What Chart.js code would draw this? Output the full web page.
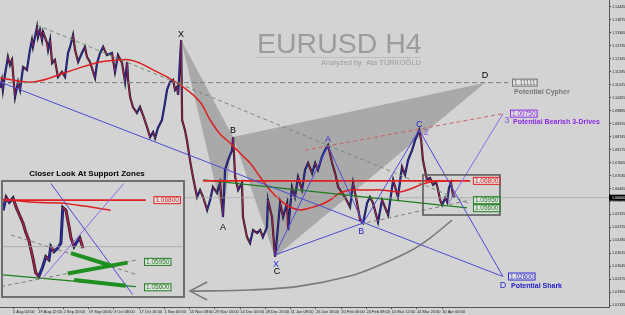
<!DOCTYPE html>
<html>
<head>
<meta charset="utf-8">
<script src="https://cdn.jsdelivr.net/npm/chart.js@4.4.1/dist/chart.umd.min.js"></script>
<style>
  html, body { margin: 0; padding: 0; background: #d3d3d3; }
  #wrap { position: relative; width: 625px; height: 315px; overflow: hidden; }
  #main { position: absolute; left: 0; top: 0; }
  #insetBox { position: absolute; left: 1px; top: 180px; width: 180px; height: 114px; border: 2px solid #6f6f6f; background: #d3d3d3; }
</style>
</head>
<body>
<div id="wrap">
  <canvas id="main" width="625" height="315"></canvas>
  <div id="insetBox"><canvas id="inset" width="180" height="114"></canvas></div>
</div>
<script>
// time axis: one unit = 1/10 of the spacing between date labels
const timeTicks = [10, 20, 30, 40, 50, 60, 70, 80, 90, 100, 110, 120, 130, 140, 150, 160, 170, 180];
const timeLabels = ['5 Aug 04:00', '19 Aug 12:00', '2 Sep 20:00', '19 Sep 00:00', '3 Oct 08:00', '17 Oct 16:00',
  '1 Nov 00:00', '15 Nov 08:00', '29 Nov 16:00', '14 Dec 00:00', '28 Dec 20:00', '11 Jan 08:00',
  '26 Jan 16:00', '10 Feb 00:00', '24 Feb 08:00', '10 Mar 12:00', '24 Mar 20:00', '10 Apr 00:00'];
const priceTicks = [1.01335, 1.01905, 1.02475, 1.03045, 1.03615, 1.04185, 1.04755, 1.05325, 1.05895, 1.06465,
  1.07035, 1.07605, 1.08175, 1.08745, 1.09315, 1.09885, 1.10455, 1.11025, 1.11595, 1.12165, 1.12735,
  1.13305, 1.13875, 1.14445];

// EURUSD H4 price path
const priceTime = [4.9,5.6,6.0,6.8,8.0,8.8,9.6,10.8,12.0,12.8,14.0,15.5,16.7,17.5,17.9,19.5,19.9,20.7,21.5,21.9,
  23.5,23.9,24.7,25.5,26.6,27.8,29.4,30.6,31.8,32.6,33.8,34.6,35.8,37.3,38.5,39.3,40.5,42.5,43.3,44.5,
  45.7,47.2,49.2,50.4,51.6,53.2,54.4,55.2,55.6,56.4,57.5,59.1,60.3,61.5,63.1,64.3,65.5,66.3,67.4,69.0,
  70.2,71.0,72.2,73.4,74.2,75.0,75.4,76.6,77.0,78.1,78.9,80.1,81.3,82.9,84.1,85.3,86.9,88.1,89.2,90.8,
  92.0,93.2,94.0,95.2,96.8,97.2,98.0,99.2,100.7,101.1,102.7,103.9,105.1,106.7,107.9,109.0,110.6,111.0,112.6,113.8,
  114.6,115.8,117.0,118.6,119.0,120.5,121.7,122.9,124.5,125.7,126.9,128.5,129.7,130.8,132.4,133.6,134.8,136.4,137.6,138.8,
  140.4,141.5,143.5,144.7,146.3,147.5,148.7,150.3,151.4,152.6,154.6,156.2,158.6,160.6,162.5,164.1,165.3,166.5,168.1,169.3,
  170.9,171.7,172.4,173.2,174.0,175.2,176.4,177.6,178.4,179.2,180.0,181.2,182.0,182.7,183.5,184.3,185.1];
const priceClose = [1.1088,1.1123,1.1079,1.1145,1.1224,1.1189,1.1211,1.1048,1.1114,1.1079,
  1.1180,1.1167,1.1254,1.1298,1.1268,1.1355,1.1311,1.1342,1.1298,1.1334,
  1.1285,1.1254,1.1298,1.1197,1.1211,1.1136,1.1158,1.1136,1.1241,1.1268,
  1.1320,1.1254,1.1202,1.1241,1.1268,1.1224,1.1202,1.1132,1.1197,1.1241,
  1.1268,1.1232,1.1241,1.1158,1.1232,1.1197,1.1114,1.1202,1.1123,1.1048,
  1.1004,1.0978,1.1004,1.0969,1.0916,1.0872,1.0894,1.0868,1.0912,1.0947,
  1.1022,1.1079,1.1114,1.1123,1.1079,1.1092,1.1057,1.1298,1.0947,1.0903,
  1.0859,1.0771,1.0697,1.0609,1.0640,1.0609,1.0552,1.0596,1.0653,1.0627,
  1.0671,1.0521,1.0728,1.0771,1.0815,1.0872,1.0697,1.0640,1.0671,1.0521,
  1.0433,1.0407,1.0464,1.0451,1.0464,1.0433,1.0477,1.0596,1.0521,1.0346,
  1.0433,1.0583,1.0521,1.0583,1.0464,1.0653,1.0609,1.0697,1.0640,1.0728,
  1.0758,1.0714,1.0758,1.0728,1.0785,1.0815,1.0837,1.0758,1.0714,1.0653,
  1.0627,1.0609,1.0565,1.0671,1.0583,1.0508,1.0495,1.0583,1.0609,1.0583,
  1.0499,1.0596,1.0530,1.0684,1.0609,1.0741,1.0706,1.0771,1.0815,1.0859,
  1.0903,1.0859,1.0771,1.0728,1.0684,1.0693,1.0662,1.0675,1.0640,1.0596,
  1.0574,1.0605,1.0587,1.0649,1.0671,1.0618,1.0609];
const currentPrice = 1.0606;

// moving average
const maTime = [4.9,17.9,31.4,44.5,52.4,56.4,60.3,65.5,71.0,77.4,84.1,88.1,92.0,96.0,99.9,103.9,107.9,111.8,115.8,119.8,
  123.7,127.7,131.6,135.6,139.6,143.5,147.5,151.4,155.4,159.4,163.3,167.3,171.3,175.2,179.2,185.1];
const maValue = [1.1132,1.1114,1.1158,1.1202,1.1211,1.1211,1.1197,1.1167,1.1136,1.1092,
  1.1026,1.0947,1.0886,1.0846,1.0802,1.0758,1.0697,1.0640,1.0596,1.0565,
  1.0552,1.0561,1.0574,1.0596,1.0627,1.0640,1.0640,1.0640,1.0640,1.0635,
  1.0631,1.0644,1.0662,1.0675,1.0679,1.0679];

// patterns X A B C D
const patternNames = ['X', 'A', 'B', 'C', 'D'];
const cypherTime = [76.6, 93.2, 97.2, 113.8, 197.0];
const cypherPrice = [1.1298, 1.0521, 1.0872, 1.0346, 1.11111];
const sharkTime = [113.8, 134.8, 148.7, 170.9, 204.1];
const sharkPrice = [1.0355, 1.0833, 1.0495, 1.0903, 1.0260];

// trend lines (start, end)
const sharkTrendTime = [4.85, 204.1];
const sharkTrendPrice = [1.1114, 1.0260];
const cypherLevelTime = [4.85, 206.1];
const cypherLevelPrice = [1.11111, 1.11111];
const drivesTrendTime = [125.7, 204.1];
const drivesTrendPrice = [1.0815, 1.0975];
const driveLegTime = [182.4, 204.1];
const driveLegPrice = [1.0579, 1.0975];
const resistTime = [85.3, 191.1];
const resistPrice = [1.0680, 1.0680];
const greenTime = [85.3, 189.9];
const greenPrice = [1.0684, 1.0561];
const upperDashTime = [19.5, 191.1];
const upperDashPrice = [1.1364, 1.0578];
const lowerDashTime = [147.5, 191.1];
const lowerDashPrice = [1.0490, 1.0596];
const zoneTime = [172.4, 202.9];
const zonePrice = [1.0530, 1.0706];
const arcTime = [80.9, 103.9, 123.7, 143.5, 155.4, 167.3, 175.2, 183.9];
const arcPrice = [1.0196, 1.0201, 1.0218, 1.0262, 1.0311, 1.0372, 1.0429, 1.0508];
const headTime = [86.9, 80.1, 86.9];
const headPrice = [1.0236, 1.0196, 1.0157];

// price tags
const tagTime = [207.7, 206.9, 192.2, 192.2, 192.2, 206.1];
const tagPrice = [1.11111, 1.0975, 1.068, 1.0595, 1.056, 1.026];

// close-up (inset) data
const zoomTime = [172.4,172.9,173.4,174.0,174.5,174.9,175.6,176.0,176.5,177.2,177.6,178.1,178.7,179.2,
  179.7,180.0,180.5,181.1,181.6,181.9,182.4,182.9,183.2,183.7,184.1,184.6,185.1];
const zoomClose = [1.0666,1.0684,1.0677,1.0683,1.0670,1.0662,1.0648,1.0636,1.0625,1.0598,1.0580,1.0575,1.0588,1.0602,
  1.0598,1.0616,1.0609,1.0614,1.0621,1.0670,1.0666,1.0643,1.0628,1.0616,1.0622,1.0628,1.0614];
const zoomMaTime = [172.4, 177.3, 181.6, 184.3, 186.8, 189.5];
const zoomMaValue = [1.0681, 1.0677, 1.0676, 1.0673, 1.0670, 1.0666];
const zoomTagTime = [196.3, 194.8, 194.8];
const zoomTagPrice = [1.068, 1.0595, 1.056];

const FONT = '"Liberation Sans", Arial, sans-serif';
const upColor = '#2b2bb0';
const downColor = '#b0203e';

const pts = (xs, ys) => xs.map((v, i) => ({x: v, y: ys[i]}));
function line(data, color, width, dash, extra) {
  return Object.assign({
    type: 'line', data: data, borderColor: color, borderWidth: width,
    borderDash: dash || [], pointRadius: 0, fill: false, tension: 0
  }, extra || {});
}
const candleSegment = {
  borderColor: c => c.p1.parsed.y < c.p0.parsed.y ? downColor : upColor
};

function drawTag(ctx, px, py, text, color) {
  ctx.font = '6.5px ' + FONT;
  const w = ctx.measureText(text).width + 3;
  ctx.fillStyle = 'rgba(255,255,255,0.35)';
  ctx.fillRect(px, py - 3.5, w, 7);
  ctx.strokeStyle = color;
  ctx.lineWidth = 1;
  ctx.strokeRect(px + 0.5, py - 3.5, w, 7);
  ctx.fillStyle = color;
  ctx.textAlign = 'left';
  ctx.textBaseline = 'middle';
  ctx.fillText(text, px + 2, py + 0.3);
}

const tagColors = ['#6e6e6e', '#8a2be2', '#e02020', '#1e7e1e', '#1e7e1e', '#2a2ad0'];
const cypherOffsets = [[0, -6], [0, 10], [0, -7], [2, 15], [0, -7]];
const sharkOffsets = [[1, 10], [0, -6], [-2, 9], [0, -6], [0, 9]];

const notes = {
  id: 'notes',
  beforeDatasetsDraw(chart) {
    const {ctx, scales: {x, y}} = chart;
    ctx.save();
    // watermark title
    ctx.fillStyle = '#9c9c9c';
    ctx.font = '28.5px ' + FONT;
    ctx.textAlign = 'left';
    ctx.textBaseline = 'alphabetic';
    ctx.fillText('EURUSD H4', 257, 53);
    ctx.strokeStyle = '#bcbcbc';
    ctx.lineWidth = 1;
    ctx.beginPath(); ctx.moveTo(257, 57.5); ctx.lineTo(421, 57.5); ctx.stroke();
    ctx.font = '7.5px ' + FONT;
    ctx.textAlign = 'right';
    ctx.fillText('Analyzed by  Ata TÜRKOĞLU', 421, 65);
    // cypher triangles X-A-B and B-C-D
    ctx.fillStyle = '#a9a9a9';
    [[0, 1, 2], [2, 3, 4]].forEach(tri => {
      ctx.beginPath();
      tri.forEach((k, i) => {
        const px = x.getPixelForValue(cypherTime[k]);
        const py = y.getPixelForValue(cypherPrice[k]);
        if (i) ctx.lineTo(px, py); else ctx.moveTo(px, py);
      });
      ctx.closePath();
      ctx.fill();
    });
    ctx.restore();
  },
  afterDatasetsDraw(chart) {
    const {ctx, scales: {x, y}} = chart;
    ctx.save();
    // support zone box
    const zx0 = x.getPixelForValue(zoneTime[0]), zx1 = x.getPixelForValue(zoneTime[1]);
    const zy0 = y.getPixelForValue(zonePrice[1]), zy1 = y.getPixelForValue(zonePrice[0]);
    ctx.strokeStyle = '#5c5c5c';
    ctx.lineWidth = 1.6;
    ctx.strokeRect(zx0, zy0, zx1 - zx0, zy1 - zy0);
    // price tags
    tagPrice.forEach((p, i) => {
      drawTag(ctx, x.getPixelForValue(tagTime[i]), y.getPixelForValue(p), p.toFixed(5), tagColors[i]);
    });
    // pattern letters
    ctx.font = '9px ' + FONT;
    ctx.textAlign = 'center';
    ctx.textBaseline = 'middle';
    patternNames.forEach((n, i) => {
      ctx.fillStyle = '#000';
      ctx.fillText(n, x.getPixelForValue(cypherTime[i]) + cypherOffsets[i][0], y.getPixelForValue(cypherPrice[i]) + cypherOffsets[i][1]);
      ctx.fillStyle = '#2a2ad0';
      ctx.fillText(n, x.getPixelForValue(sharkTime[i]) + sharkOffsets[i][0], y.getPixelForValue(sharkPrice[i]) + sharkOffsets[i][1]);
    });
    ctx.fillStyle = '#7a5ae0';
    ctx.fillText('2', x.getPixelForValue(sharkTime[3]) + 7, y.getPixelForValue(sharkPrice[3]) + 2);
    ctx.fillText('3', x.getPixelForValue(driveLegTime[1]) + 4, y.getPixelForValue(driveLegPrice[1]) + 7);
    // captions
    ctx.font = 'bold 7px ' + FONT;
    ctx.textAlign = 'left';
    ctx.fillStyle = '#777777';
    ctx.fillText('Potential Cypher', x.getPixelForValue(208.5), y.getPixelForValue(1.1070));
    ctx.fillStyle = '#8a2be2';
    ctx.fillText('Potential Bearish 3-Drives', x.getPixelForValue(208.1), y.getPixelForValue(1.0938));
    ctx.fillStyle = '#2020c8';
    ctx.fillText('Potential Shark', x.getPixelForValue(207.3), y.getPixelForValue(1.0218));
    // inset heading
    ctx.fillStyle = '#000';
    ctx.font = 'bold 8px ' + FONT;
    ctx.textAlign = 'center';
    ctx.fillText('Closer Look At Support Zones', 87, 174);
    ctx.restore();
  },
  afterDraw(chart) {
    const {ctx, scales: {y}} = chart;
    const py = y.getPixelForValue(currentPrice);
    ctx.save();
    ctx.fillStyle = '#000';
    ctx.fillRect(y.left, py - 3, 16, 6);
    ctx.fillStyle = '#fff';
    ctx.font = '3.7px ' + FONT;
    ctx.textBaseline = 'middle';
    ctx.fillText(currentPrice.toFixed(5), y.left + 3, py + 0.3);
    ctx.restore();
  }
};

const mainDatasets = [
  line(pts(sharkTime, sharkPrice), '#4b4bd2', 1),
  line(pts([sharkTime[0], sharkTime[2]], [sharkPrice[0], sharkPrice[2]]), '#4b4bd2', 1),
  line(pts(sharkTrendTime, sharkTrendPrice), '#4b4bd2', 1),
  line(pts(driveLegTime, driveLegPrice), '#8a6ae6', 1),
  line(pts(drivesTrendTime, drivesTrendPrice), '#c86464', 1, [4, 3]),
  line(pts(resistTime, resistPrice), '#e02020', 1.6),
  line(pts(greenTime, greenPrice), '#1e7e1e', 1.3),
  line(pts(lowerDashTime, lowerDashPrice), '#7c7c7c', 1, [4, 3]),
  line(pts(upperDashTime, upperDashPrice), '#6f8f6f', 1, [4, 3]),
  line(pts(cypherLevelTime, cypherLevelPrice), '#7c7c7c', 1, [5, 3]),
  line(pts(arcTime, arcPrice), '#7a7a7a', 1.6, [], {tension: 0.4}),
  line(pts(headTime, headPrice), '#7a7a7a', 1.6),
  line(pts([4.85, 246.1], [currentPrice, currentPrice]), '#a4a4a4', 0.7),
  line(pts(maTime, maValue), '#dd1f1f', 1.5, [], {tension: 0.4}),
  line(pts(priceTime, priceClose), upColor, 1, [], {segment: candleSegment}),
  line(pts(priceTime, priceClose), '#1e1e3a', 2.2)
];

new Chart(document.getElementById('main'), {
  type: 'line',
  data: { datasets: mainDatasets },
  options: {
    responsive: false,
    animation: false,
    events: [],
    layout: { padding: 0 },
    plugins: { legend: { display: false }, tooltip: { enabled: false } },
    scales: {
      x: {
        type: 'linear', min: 4.85, max: 246.1,
        afterBuildTicks: s => { s.ticks = timeTicks.map(v => ({value: v})); },
        afterFit: s => { s.height = 8; s.paddingLeft = 0; s.paddingRight = 0; },
        grid: { drawOnChartArea: false, tickLength: 2, color: '#444' },
        border: { color: '#555', width: 1 },
        ticks: {
          autoSkip: false, maxRotation: 0, align: 'start', padding: 0,
          font: { size: 4, family: FONT }, color: '#222',
          callback: (v, i) => timeLabels[i]
        }
      },
      y: {
        position: 'right', min: 1.01262, max: 1.14739,
        afterBuildTicks: s => { s.ticks = priceTicks.map(v => ({value: v})); },
        afterFit: s => { s.width = 16; s.paddingTop = 0; s.paddingBottom = 0; },
        grid: { drawOnChartArea: false, tickLength: 2, color: '#444' },
        border: { color: '#555', width: 1 },
        ticks: {
          padding: 1, font: { size: 3.7, family: FONT }, color: '#222',
          callback: v => v.toFixed(5)
        }
      }
    }
  },
  plugins: [notes]
});

// inset: closer look at the support zones
const zoomTagColors = ['#e02020', '#1e7e1e', '#1e7e1e'];
const insetNotes = {
  id: 'insetNotes',
  afterDatasetsDraw(chart) {
    const {ctx, scales: {x, y}} = chart;
    ctx.save();
    zoomTagPrice.forEach((p, i) => {
      drawTag(ctx, x.getPixelForValue(zoomTagTime[i]), y.getPixelForValue(p), p.toFixed(5), zoomTagColors[i]);
    });
    ctx.restore();
  }
};

new Chart(document.getElementById('inset'), {
  type: 'line',
  data: {
    datasets: [
      line(pts([183.2, 189.5], [1.0607, 1.0590]), '#1f8f1f', 4),
      line(pts([182.7, 192.2], [1.0579, 1.0594]), '#1f8f1f', 4),
      line(pts([183.7, 191.9], [1.0570, 1.0562]), '#1f8f1f', 4),
      line(pts([180.0, 193.0], [1.0703, 1.0550]), '#4b4bd2', 1),
      line(pts([178.9, 191.6], [1.0575, 1.0703]), '#8a6ae6', 1),
      line(pts([172.1, 193.8], [1.0561, 1.0598]), '#7c7c7c', 1, [4, 3]),
      line(pts([173.7, 193.8], [1.0632, 1.0577]), '#7c7c7c', 1, [4, 3]),
      line(pts([172.4, 193.5], [1.0577, 1.0561]), '#1e7e1e', 1.3),
      line(pts([172.4, 195.1], [1.068, 1.068]), '#e02020', 1.6),
      line(pts(zoomMaTime, zoomMaValue), '#dd1f1f', 1.5, [], {tension: 0.4}),
      line(pts([172.4, 201.0], [1.0616, 1.0616]), '#a4a4a4', 0.8),
      line(pts(zoomTime, zoomClose), upColor, 1.6, [], {segment: candleSegment}),
      line(pts(zoomTime, zoomClose), '#1e1e3a', 3)
    ]
  },
  options: {
    responsive: false,
    animation: false,
    events: [],
    layout: { padding: 0 },
    plugins: { legend: { display: false }, tooltip: { enabled: false } },
    scales: {
      x: { type: 'linear', display: false, min: 172.4, max: 201.0 },
      y: { display: false, min: 1.0548, max: 1.0705 }
    }
  },
  plugins: [insetNotes]
});
</script>
</body>
</html>
